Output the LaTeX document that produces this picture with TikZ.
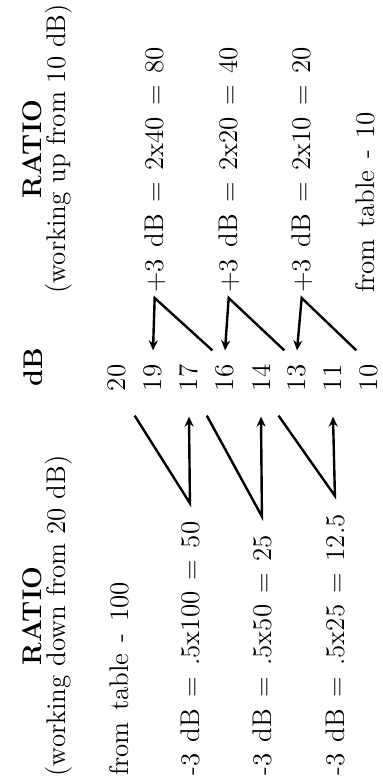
\documentclass[tikz,border=0pt]{standalone}
\usepackage{fontspec}
\usetikzlibrary{arrows.meta,calc}
\newcommand{\txtfont}{\fontsize{13.5}{16}\selectfont\addfontfeature{FakeBold=1.6}}
\newcommand{\eqfont}{\txtfont\setlength{\spaceskip}{0.42em}}
\tikzset{
  lbl/.style={inner sep=0pt,font=\txtfont},
  eqn/.style={lbl,font=\eqfont},
  hdr/.style={lbl,font=\fontsize{13.5}{16}\selectfont\bfseries},
  num/.style={lbl},
  arr/.style={-{Stealth[length=5pt,width=4.5pt]},line width=1.2pt},
}
\begin{document}
\begin{tikzpicture}[x=0.5pt,y=-0.5pt,rotate=90,transform shape]
  \useasboundingbox (0,0) rectangle (781,382);
  % headers
  \node[hdr,anchor=base] (ratioL) at (165,41) {RATIO};
  \node[lbl,anchor=base] (workL) at (165,65) {(working down from 20 dB)};
  \node[hdr,anchor=base] (dbH) at (414,42) {dB};
  \node[hdr,anchor=base] (ratioR) at (632,41) {RATIO};
  \node[lbl,anchor=base] (workR) at (632,65) {(working up from 10 dB)};
  % dB column
  \foreach \n [count=\i] in {20,19,17,16,14,13,11,10}
    \node[num] (d\n) at (403,{117+36*(\i-1)}) {\n};
  % working down
  \node[eqn,anchor=base west] (lt0) at (5,128) {from table - 100};
  \node[eqn,anchor=base west] (lt1) at (5,199) {-3 dB = .5x100 = 50};
  \node[eqn,anchor=base west] (lt2) at (5,271) {-3 dB = .5x50 = 25};
  \node[eqn,anchor=base west] (lt3) at (5,344) {-3 dB = .5x25 = 12.5};
  % working up
  \node[eqn,anchor=base west] (rt1) at (488,163) {+3 dB = 2x40 = 80};
  \node[eqn,anchor=base west] (rt2) at (488,237) {+3 dB = 2x20 = 40};
  \node[eqn,anchor=base west] (rt3) at (488,310) {+3 dB = 2x10 = 20};
  \node[eqn,anchor=base west] (rt0) at (488,374) {from table - 10};
  % zigzags
  \foreach \a/\b/\t in {20/17/lt1,17/14/lt2,14/11/lt3}
    \draw[arr] ($(d\a.south west)+(-24,8)$) -- ($(\t.east)+(18,0)$) -- ($(d\b.west)+(-25,0)$);
  \foreach \a/\b/\t in {16/19/rt1,13/16/rt2,10/13/rt3}
    \draw[arr] ($(d\a.north east)+(14,-3)$) -- ($(\t.west)+(-5,0)$) -- ($(d\b.east)+(14,0)$);
\end{tikzpicture}
\end{document}
